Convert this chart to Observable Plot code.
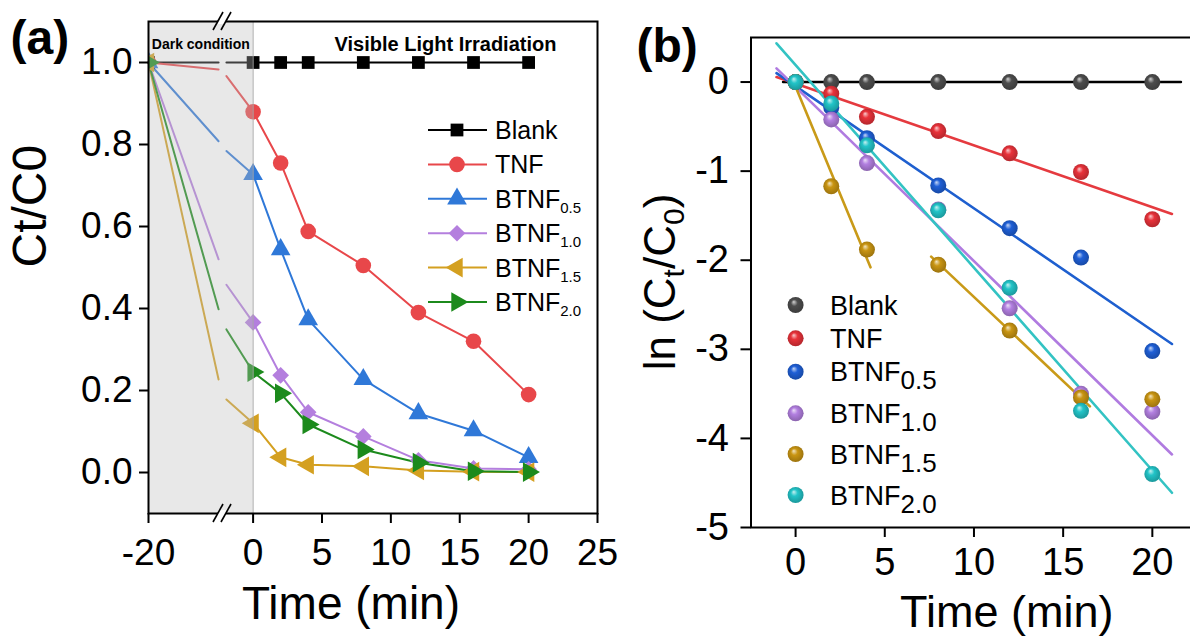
<!DOCTYPE html>
<html><head><meta charset="utf-8">
<script src="https://cdn.jsdelivr.net/npm/d3@7"></script>
<script src="https://cdn.jsdelivr.net/npm/@observablehq/plot@0.6"></script>
<style>
body{margin:0;background:#fff;}
#wrap{position:relative;width:1190px;height:639px;overflow:hidden;background:#fff;}
#wrap svg{position:absolute;top:0;}
</style></head><body><div id="wrap"></div>
<script>
// ---------- DATA ----------
const seriesLabels = ["Blank","TNF","BTNF","BTNF","BTNF","BTNF"];
const seriesSubs   = ["","","0.5","1.0","1.5","2.0"];

// panel (a): Ct/C0 vs time
const darkPhase  = [-20, 0];
const darkTimes  = [-20, -6.6, -5.1];          // start of dark phase and the two edges of the axis break
const lightTimes = [0, 2, 4, 8, 12, 16, 20];
const blankDark = [1.0, 1.0, 1.0];
const tnfDark   = [1.0, 0.983, 0.967];
const b05Dark   = [1.0, 0.808, 0.784];
const b10Dark   = [1.0, 0.52, 0.458];
const b15Dark   = [1.0, 0.227, 0.178];
const b20Dark   = [1.0, 0.398, 0.349];
const blankA = [1.0, 1.0, 1.0, 1.0, 1.0, 1.0, 1.0];
const tnfA   = [0.88, 0.755, 0.588, 0.505, 0.39, 0.32, 0.19];
const b05A   = [0.727, 0.544, 0.373, 0.227, 0.144, 0.102, 0.037];
const b10A   = [0.366, 0.237, 0.147, 0.088, 0.03, 0.01, 0.008];
const b15A   = [0.12, 0.037, 0.019, 0.015, 0.005, 0.002, 0.001];
const b20A   = [0.245, 0.193, 0.117, 0.056, 0.024, 0.003, 0.001];
const xTicksA = [-20, 0, 5, 10, 15, 20, 25];
const yTicksA = [0, 0.2, 0.4, 0.6, 0.8, 1.0];

// panel (b): ln(Ct/C0) vs time
const kinTimes = [0, 2, 4, 8, 12, 16, 20];
const blankB = [0, 0, 0, 0, 0, 0, 0];
const tnfB   = [0, -0.13, -0.39, -0.55, -0.80, -1.01, -1.54];
const b05B   = [0, -0.285, -0.63, -1.16, -1.64, -1.97, -3.02];
const b10B   = [0, -0.42, -0.91, -1.43, -2.54, -3.50, -3.70];
const b15B   = [0, -1.17, -1.88, -2.05, -2.79, -3.54, -3.56];
const b20B   = [0, -0.24, -0.71, -1.44, -2.31, -3.69, -4.40];
// fitted lines, endpoints: [[t0, t1], [y0, y1]]
const fitBlank = [[-0.7, 21.6], [0, 0]];
const fitTnf   = [[-1.07, 21.1], [0.056, -1.48]];
const fitB05   = [[-1.07, 21.1], [0.10, -2.94]];
const fitB10   = [[-1.07, 21.1], [0.154, -4.18]];
const fitB15a  = [[-0.15, 4.2], [0.02, -2.08]];
const fitB15b  = [[7.6, 16.5], [-1.96, -3.64]];
const fitB20   = [[-1.07, 21.1], [0.435, -4.61]];
const xTicksB = [0, 5, 10, 15, 20];
const yTicksB = [-5, -4, -3, -2, -1, 0];

// ---------- HELPERS ----------
const FONT = "'Liberation Sans', Arial, Helvetica, sans-serif";
const sqrt3 = Math.sqrt(3);
const triLeft = {draw(ctx, size){ const y = -Math.sqrt(size/(sqrt3*3)); ctx.moveTo(y*2,0); ctx.lineTo(-y,-sqrt3*y); ctx.lineTo(-y,sqrt3*y); ctx.closePath(); }};
const triRight = {draw(ctx, size){ const y = -Math.sqrt(size/(sqrt3*3)); ctx.moveTo(-y*2,0); ctx.lineTo(y,sqrt3*y); ctx.lineTo(y,-sqrt3*y); ctx.closePath(); }};
const symMap = {square: d3.symbolSquare, circle: d3.symbolCircle, triangle: d3.symbolTriangle, diamond2: d3.symbolDiamond2};
const symType = s => (typeof s === "string" ? symMap[s] : s);
const fmt = d => String(d);

const wrap = document.getElementById("wrap");

// ---------- PANEL A ----------
const seriesA = [
  {dark: blankDark, vals: blankA, color: "#000000", symbol: "square",   r: 7.2},
  {dark: tnfDark,   vals: tnfA,   color: "#e8474a", symbol: "circle",   r: 7.8},
  {dark: b05Dark,   vals: b05A,   color: "#2f78d8", symbol: "triangle", r: 7.3},
  {dark: b10Dark,   vals: b10A,   color: "#b47fde", symbol: "diamond2", r: 7.5},
  {dark: b15Dark,   vals: b15A,   color: "#d4a020", symbol: triLeft,    r: 7.3},
  {dark: b20Dark,   vals: b20A,   color: "#1c8a1c", symbol: triRight,   r: 7.3}
];

const marksA = [];
seriesA.forEach(s => {
  const rows = [
    {t: darkTimes[0], v: s.dark[0], k: 0},
    {t: darkTimes[1], v: s.dark[1], k: 0},
    {t: darkTimes[2], v: s.dark[2], k: 1},
    ...lightTimes.map((t, j) => ({t, v: s.vals[j], k: 1}))
  ];
  marksA.push(Plot.line(rows, {x: "t", y: "v", z: "k", stroke: s.color, strokeWidth: 2}));
});
seriesA.forEach(s => {
  const pts = [{t: darkTimes[0], v: s.dark[0]}, ...lightTimes.map((t, j) => ({t, v: s.vals[j]}))];
  marksA.push(Plot.dot(pts, {x: "t", y: "v", symbol: s.symbol, r: s.r, fill: s.color, stroke: "none", clip: true}));
});
marksA.push(
  Plot.rect([darkPhase], {x1: d => d[0], x2: d => d[1], fill: "#bcbcbc", fillOpacity: 0.34}),
  Plot.ruleX([darkPhase[1]], {stroke: "#a8a8a8", strokeWidth: 1}),
  Plot.frame({stroke: "#000", strokeWidth: 2}),
  Plot.axisY({ticks: yTicksA, tickSize: 9, tickPadding: 7, fontSize: 37, tickFormat: d3.format(".1f"), strokeWidth: 2, label: null}),
  Plot.axisX({ticks: xTicksA, tickSize: 10, tickPadding: 15, fontSize: 37, tickFormat: fmt, strokeWidth: 2, label: null}),
  Plot.text([darkPhase], {x: d => (d[0] + d[1]) / 2, text: () => "Dark condition", frameAnchor: "top", lineAnchor: "middle", dy: 23, fontWeight: "bold", fontSize: 14}),
  Plot.text(["Visible Light Irradiation"], {frameAnchor: "top-right", textAnchor: "middle", lineAnchor: "middle", dx: -152, dy: 23, fontWeight: "bold", fontSize: 20}),
  Plot.text(["Ct/C0"], {frameAnchor: "left", rotate: -90, lineAnchor: "middle", dx: -118, fontSize: 48}),
  Plot.text(["Time (min)"], {frameAnchor: "bottom", lineAnchor: "middle", dx: -22, dy: 91, fontSize: 46}),
  Plot.text(["(a)"], {frameAnchor: "top-left", textAnchor: "start", lineAnchor: "middle", dx: -138, dy: 17, fontSize: 48, fontWeight: "bold"})
);

const plotA = Plot.plot({
  width: 620, height: 639,
  marginLeft: 148, marginRight: 23, marginTop: 21, marginBottom: 126,
  x: {type: "linear", domain: [-20, 0, 25], range: [148, 252.6, 597], label: null},
  y: {domain: [-0.1, 1.1], label: null},
  style: {fontFamily: FONT, color: "#000", background: "none", overflow: "visible"},
  marks: marksA
});
plotA.style.left = "0px";
wrap.appendChild(plotA);

// axis break marks and legend for panel a
(function(){
  const svg = d3.select(plotA);
  const bx = plotA.scale("x").apply((darkTimes[1] + darkTimes[2]) / 2);
  const yTop = plotA.scale("y").apply(1.1), yBot = plotA.scale("y").apply(-0.1);
  const g = svg.append("g");
  [yTop, yBot].forEach(yy => {
    g.append("rect").attr("x", bx - 4).attr("y", yy - 3).attr("width", 8).attr("height", 6).attr("fill", "#fff");
    [-4, 4].forEach(o => g.append("line")
      .attr("x1", bx + o - 5).attr("y1", yy + 9).attr("x2", bx + o + 5).attr("y2", yy - 9)
      .attr("stroke", "#000").attr("stroke-width", 1.6));
  });
  const lg = svg.append("g").attr("font-family", FONT).attr("text-anchor", "start");
  seriesA.forEach((s, i) => {
    const y = 130 + 34.4 * i;
    lg.append("line").attr("x1", 428).attr("x2", 487).attr("y1", y).attr("y2", y).attr("stroke", s.color).attr("stroke-width", 2);
    lg.append("path").attr("transform", `translate(457,${y})`).attr("d", d3.symbol(symType(s.symbol), Math.PI * s.r * s.r)()).attr("fill", s.color);
    const t = lg.append("text").attr("x", 495).attr("y", y + 9).attr("font-size", 25).attr("text-anchor", "start").text(seriesLabels[i]);
    if (seriesSubs[i]) t.append("tspan").attr("font-size", 15).attr("dy", 5).text(seriesSubs[i]);
  });
})();

// ---------- PANEL B ----------
const seriesB = [
  {vals: blankB, fits: [fitBlank],         dot: "#4d4d4d", line: "#000000"},
  {vals: tnfB,   fits: [fitTnf],           dot: "#e8323a", line: "#e53a3f"},
  {vals: b05B,   fits: [fitB05],           dot: "#1f5fd6", line: "#1e5fcf"},
  {vals: b10B,   fits: [fitB10],           dot: "#b27fe0", line: "#b07be0"},
  {vals: b15B,   fits: [fitB15a, fitB15b], dot: "#c99512", line: "#c99a18"},
  {vals: b20B,   fits: [fitB20],           dot: "#22c4c8", line: "#33c3c3"}
];

const marksB = [];
seriesB.forEach(s => {
  const rows = [];
  s.fits.forEach((f, k) => { rows.push({t: f[0][0], v: f[1][0], k}); rows.push({t: f[0][1], v: f[1][1], k}); });
  marksB.push(Plot.line(rows, {x: "t", y: "v", z: "k", stroke: s.line, strokeWidth: 2.6}));
});
seriesB.forEach((s, i) => {
  const pts = kinTimes.map((t, j) => ({t, v: s.vals[j]}));
  marksB.push(Plot.dot(pts, {x: "t", y: "v", r: 8, fill: `url(#sph${i})`, stroke: "none"}));
});
marksB.push(
  Plot.frame({stroke: "#000", strokeWidth: 2}),
  Plot.axisY({ticks: yTicksB, tickSize: 10, tickPadding: 12, fontSize: 38, tickFormat: fmt, strokeWidth: 2, label: null}),
  Plot.axisX({ticks: xTicksB, tickSize: 10, tickPadding: 11, fontSize: 38, tickFormat: fmt, strokeWidth: 2, label: null}),
  Plot.text(["Time (min)"], {frameAnchor: "bottom", lineAnchor: "middle", dx: 31, dy: 85, fontSize: 45}),
  Plot.text(["(b)"], {frameAnchor: "top-left", textAnchor: "start", lineAnchor: "middle", dx: -114.5, dy: 9, fontSize: 48, fontWeight: "bold"})
);

const plotB = Plot.plot({
  width: 600, height: 639,
  marginLeft: 150.5, marginRight: 0, marginTop: 37, marginBottom: 112,
  x: {domain: [-2.5, 22.7], label: null},
  y: {domain: [-5, 0.5], label: null},
  style: {fontFamily: FONT, color: "#000", background: "none", overflow: "visible"},
  marks: marksB
});
plotB.style.left = "600px";
wrap.appendChild(plotB);

(function(){
  const svg = d3.select(plotB);
  const defs = svg.insert("defs", ":first-child");
  seriesB.forEach((s, i) => {
    const c = d3.color(s.dot);
    const gr = defs.append("radialGradient").attr("id", `sph${i}`)
      .attr("cx", "0.5").attr("cy", "0.5").attr("r", "0.6").attr("fx", "0.38").attr("fy", "0.3");
    gr.append("stop").attr("offset", "0").attr("stop-color", d3.interpolateRgb(c, "#fff")(0.75));
    gr.append("stop").attr("offset", "0.35").attr("stop-color", c.formatHex());
    gr.append("stop").attr("offset", "1").attr("stop-color", c.darker(0.9).formatHex());
  });
  // y-axis label with subscripts
  const yl = svg.append("text").attr("font-family", FONT).attr("font-size", 44)
    .attr("text-anchor", "middle").attr("transform", "translate(60,282) rotate(-90)").attr("dy", "0.35em");
  yl.append("tspan").text("ln (C");
  yl.append("tspan").attr("font-size", 30).attr("dy", 9).text("t");
  yl.append("tspan").attr("dy", -9).text("/C");
  yl.append("tspan").attr("font-size", 30).attr("dy", 9).text("0");
  yl.append("tspan").attr("dy", -9).text(")");
  // legend
  const rowsY = [305, 338.3, 371.7, 413.3, 454, 495];
  const lg = svg.append("g").attr("font-family", FONT).attr("text-anchor", "start");
  seriesB.forEach((s, i) => {
    const y = rowsY[i];
    lg.append("circle").attr("cx", 195.6).attr("cy", y).attr("r", 8).attr("fill", `url(#sph${i})`);
    const t = lg.append("text").attr("x", 230).attr("y", y + 9.5).attr("font-size", 27).attr("text-anchor", "start").text(seriesLabels[i]);
    if (seriesSubs[i]) t.append("tspan").attr("font-size", 26).attr("dy", 8).text(seriesSubs[i]);
  });
})();
</script></body></html>
